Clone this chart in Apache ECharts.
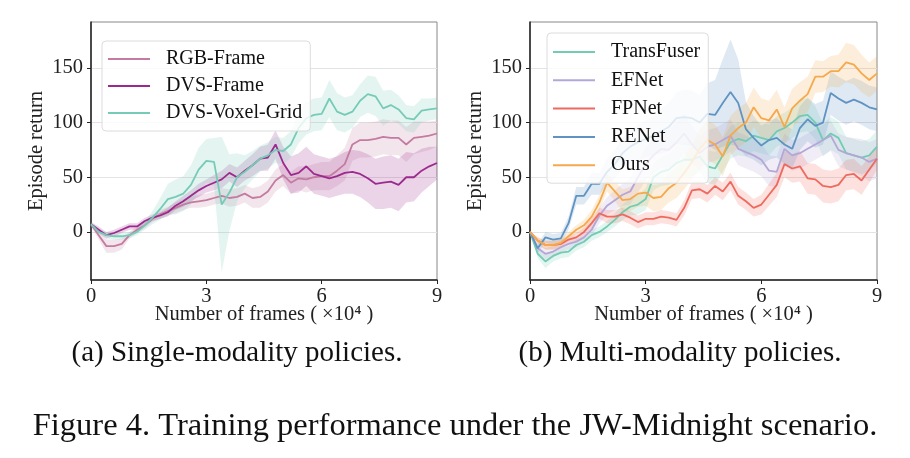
<!DOCTYPE html>
<html lang="en">
<head>
<meta charset="UTF-8">
<script src="https://cdn.jsdelivr.net/npm/echarts@6/dist/echarts.min.js"></script>
<style>
  html, body { margin: 0; padding: 0; background: #fff; }
  #chart { width: 910px; height: 458px; }
</style>
</head>
<body>
<div id="chart"></div>
<script>
// x positions (number of frames, x10^4)
var frames = [0,0.2,0.4,0.6,0.8,1,1.2,1.4,1.6,1.8,2,2.2,2.4,2.6,2.8,3,3.2,3.4,3.6,3.8,4,4.2,4.4,4.6,4.8,5,5.2,5.4,5.6,5.8,6,6.2,6.4,6.6,6.8,7,7.2,7.4,7.6,7.8,8,8.2,8.4,8.6,8.8,9];
var xTicks = [0, 3, 6, 9];
var yTicks = [0, 50, 100, 150];

// (a) single-modality
var rgbFrame    = [7,-3,-13,-13,-11,-3,2,6,12,16, 19,22,25,27,28,29,31,33,31,32, 35,31,32,37,47,52,45,49,48,50, 51,51,56,62,80,84,84,85,87,86, 86,80,86,87,88,90];
var rgbFrameStd = [2,4,6,6,5,3,3,3,3,4, 4,5,5,5,6,6,6,7,8,8, 8,9,10,10,10,10,10,11,12,12, 13,13,14,15,15,16,16,16,16,16, 16,16,15,14,13,12];
var dvsFrame    = [7,2,-3,-1,2,5,5,10,13,15, 18,24,28,33,38,42,45,48,54,50, 56,61,67,68,80,63,52,54,60,53, 51,49,51,54,55,53,49,44,45,46, 43,50,50,56,60,63];
var dvsFrameStd = [2,3,3,3,3,3,3,3,3,3, 4,4,5,5,6,6,7,8,8,9, 9,10,11,12,13,15,17,18,18,18, 18,18,18,19,20,21,22,23,24,24, 24,23,22,20,18,15];
var dvsVoxel    = [7,0,-3,-4,-4,-3,0,6,13,21, 30,32,35,43,57,65,64,25,36,50, 55,61,67,70,75,74,80,95,104,107, 108,122,110,107,110,120,126,124,113,116, 112,104,103,111,112,113];
var dvsVoxelStd = [2,2,3,3,3,3,3,4,6,10, 14,16,16,18,20,20,22,62,35,22, 15,13,12,12,12,12,12,14,15,15, 15,17,17,16,15,15,17,18,16,14, 13,12,12,11,10,10];

// (b) multi-modality
var transFuser    = [0,-20,-27,-22,-19,-18,-12,-9,-3,0, 5,11,18,23,25,30,50,55,57,63, 66,66,69,60,58,70,82,85,83,88, 86,84,92,95,100,106,107,100,84,90, 86,72,70,68,70,78];
var transFuserStd = [0,4,6,5,5,5,5,5,5,5, 5,6,7,8,9,10,12,13,14,15, 15,15,15,15,15,15,15,15,14,14, 14,14,14,14,14,15,15,15,15,15, 15,15,15,15,15,15];
var efNet    = [0,-15,-20,-18,-14,-11,-9,-5,2,15, 24,29,34,37,50,62,70,76,75,82, 90,80,72,78,80,84,88,76,73,70, 66,56,55,76,70,72,76,80,84,88, 75,72,70,68,64,67];
var efNetStd = [0,4,5,5,5,5,5,5,6,7, 8,9,10,12,14,15,16,17,18,18, 18,17,16,15,15,15,15,15,15,15, 15,14,14,14,14,14,14,14,14,14, 15,15,16,17,18,18];
var fpNet    = [0,-8,-12,-12,-11,-7,-5,0,8,17, 14,14,16,13,9,12,12,14,13,11, 22,38,39,35,42,37,46,33,28,22, 25,34,43,62,58,60,49,48,42,41, 43,52,53,47,57,67];
var fpNetStd = [0,3,4,4,4,4,4,4,5,5, 6,6,6,6,6,6,6,6,6,6, 7,8,8,8,8,8,8,8,8,8, 9,10,11,12,13,14,14,14,15,15, 15,14,14,13,12,10];
var reNet    = [0,-15,-5,-7,-6,8,33,33,44,44, 55,62,72,78,82,85,88,92,96,104, 105,104,100,108,107,118,128,118,94,86, 79,84,86,80,76,95,103,97,100,127, 122,118,121,118,114,112];
var reNetStd = [0,4,5,5,5,6,8,8,10,10, 12,13,14,15,16,17,18,20,22,24, 25,25,25,28,32,40,48,40,25,20, 18,18,18,18,18,20,20,20,20,20, 20,20,20,20,20,20];
var ours    = [0,-8,-12,-12,-10,-4,2,6,14,27, 45,37,29,30,35,36,31,32,40,45, 54,64,76,84,80,69,88,95,100,114, 104,102,112,96,113,120,126,142,142,147, 147,155,153,145,139,145];
var oursStd = [0,3,4,4,4,4,4,5,6,7, 8,9,10,11,12,12,12,12,13,14, 15,16,18,18,18,18,18,18,18,18, 18,18,18,18,18,17,16,15,14,14, 15,18,18,17,16,16];

var font = 'Liberation Serif';
var series = [];

// shaded band (mean +- std) drawn as two stacked lines, then the mean line
function addRun(name, mean, std, color, gi) {
  var lower = mean.map(function (m, i) { return m - std[i]; });
  var span = std.map(function (s) { return 2 * s; });
  series.push({
    type: 'line', name: name + ' lo', xAxisIndex: gi, yAxisIndex: gi,
    data: lower, stack: name, stackStrategy: 'all', symbol: 'none', silent: true,
    lineStyle: { opacity: 0 }, z: 1
  });
  series.push({
    type: 'line', name: name + ' band', xAxisIndex: gi, yAxisIndex: gi,
    data: span, stack: name, stackStrategy: 'all', symbol: 'none', silent: true,
    lineStyle: { opacity: 0 }, areaStyle: { color: color, opacity: 0.2 }, z: 1
  });
  series.push({
    type: 'line', name: name, xAxisIndex: gi, yAxisIndex: gi,
    data: mean, symbol: 'none', color: color,
    lineStyle: { width: 1.8, color: color }, z: 3
  });
}

addRun('RGB-Frame', rgbFrame, rgbFrameStd, '#c47ba2', 0);
addRun('DVS-Frame', dvsFrame, dvsFrameStd, '#9c2a8e', 0);
addRun('DVS-Voxel-Grid', dvsVoxel, dvsVoxelStd, '#76cbb7', 0);

addRun('TransFuser', transFuser, transFuserStd, '#72cbb2', 1);
addRun('EFNet', efNet, efNetStd, '#b4a7d6', 1);
addRun('FPNet', fpNet, fpNetStd, '#ee6a5f', 1);
addRun('RENet', reNet, reNetStd, '#5f93c2', 1);
addRun('Ours', ours, oursStd, '#f6a94c', 1);

function makeX(gi) {
  return {
    type: 'category', gridIndex: gi, data: frames, boundaryGap: false,
    name: 'Number of frames ( \u00d710\u2074 )', nameLocation: 'middle', nameGap: 24,
    nameMoveOverlap: false,
    nameTextStyle: { fontFamily: font, fontSize: 20.5, color: '#222' },
    axisLine: { onZero: false, lineStyle: { color: '#222', width: 1.5 } },
    axisTick: { length: 4, lineStyle: { color: '#222' },
      interval: function (i, v) { return xTicks.indexOf(Number(v)) >= 0; } },
    axisLabel: { fontFamily: font, fontSize: 20.5, color: '#222', margin: 6,
      interval: function (i, v) { return xTicks.indexOf(Number(v)) >= 0; },
      formatter: function (v) { return String(Number(v)); } },
    splitLine: { show: false }
  };
}

function makeY(gi) {
  return {
    type: 'value', gridIndex: gi, min: -44, max: 192,
    name: 'Episode return', nameLocation: 'middle', nameGap: 44,
    nameTextStyle: { fontFamily: font, fontSize: 20.5, color: '#222' },
    axisLine: { show: true, lineStyle: { color: '#222', width: 1.5 } },
    axisTick: { show: true, length: 4, lineStyle: { color: '#222' }, customValues: yTicks },
    axisLabel: { fontFamily: font, fontSize: 20.5, color: '#222', margin: 8, customValues: yTicks,
      formatter: function (v) { return yTicks.indexOf(v) >= 0 ? String(v) : ''; } },
    splitLine: { show: true, lineStyle: { color: '#e3e3e3', width: 1 } }
  };
}

function makeLegend(names, left, top, gap, padTop) {
  return {
    data: names, orient: 'vertical', left: left, top: top,
    icon: 'rect', itemWidth: 42, itemHeight: 2, itemGap: gap,
    padding: [padTop, 8, 8, 6],
    backgroundColor: 'rgba(255,255,255,0.8)', borderColor: '#dcdcdc', borderWidth: 1, borderRadius: 4,
    textStyle: { fontFamily: font, fontSize: 20, color: '#111', padding: [0, 0, 0, 11] },
    selectedMode: false
  };
}

var myChart = echarts.init(document.getElementById('chart'));
var option = {
  animation: false,
  backgroundColor: '#fff',
  grid: [
    { left: 91, top: 22, width: 346, height: 258, show: true, borderColor: '#888', borderWidth: 1 },
    { left: 530, top: 22, width: 347, height: 258, show: true, borderColor: '#888', borderWidth: 1 }
  ],
  xAxis: [makeX(0), makeX(1)],
  yAxis: [makeY(0), makeY(1)],
  legend: [
    makeLegend(['RGB-Frame', 'DVS-Frame', 'DVS-Voxel-Grid'], 102, 41, 7, 8),
    makeLegend(['TransFuser', 'EFNet', 'FPNet', 'RENet', 'Ours'], 547, 33, 8.3, 9)
  ],
  graphic: [
    { type: 'text', x: 237, y: 353, style: { text: '(a) Single-modality policies.', font: '29px "Liberation Serif"', fill: '#111', textAlign: 'center', textVerticalAlign: 'middle' } },
    { type: 'text', x: 680, y: 353, style: { text: '(b) Multi-modality policies.', font: '29px "Liberation Serif"', fill: '#111', textAlign: 'center', textVerticalAlign: 'middle' } },
    { type: 'text', x: 455, y: 426, style: { text: 'Figure 4. Training performance under the JW-Midnight scenario.', font: '32.5px "Liberation Serif"', fill: '#111', textAlign: 'center', textVerticalAlign: 'middle' } }
  ],
  series: series
};
option && myChart.setOption(option);
</script>
</body>
</html>
